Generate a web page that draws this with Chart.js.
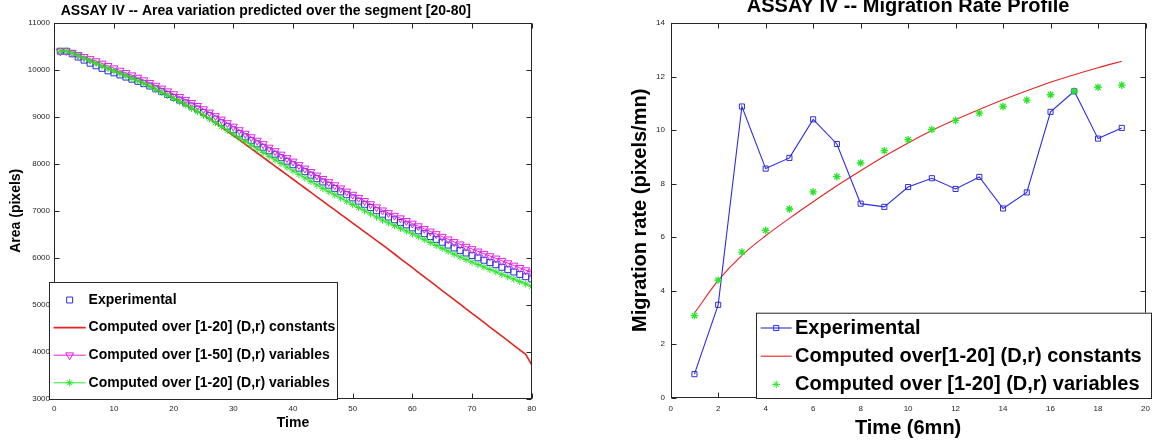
<!DOCTYPE html>
<html>
<head>
<meta charset="utf-8">
<script src="https://cdn.jsdelivr.net/npm/chart.js@4.4.1/dist/chart.umd.min.js"></script>
<style>
  html, body { margin: 0; padding: 0; background: #fff; overflow: hidden; }
  body { position: relative; width: 1173px; height: 445px; }
  canvas { position: absolute; }
  #areaChart { left: 0; top: 0; }
  #rateChart { left: 580px; top: -10px; }
</style>
</head>
<body>
<canvas id="areaChart" width="576" height="445"></canvas>
<canvas id="rateChart" width="593" height="455"></canvas>
<script>
// ---- left chart: area over time (t = 1..80) ----
const areaExperimental = [
  10390, 10390, 10335, 10265, 10200, 10135, 10080, 10025, 9972, 9930,
  9885, 9840, 9795, 9750, 9700, 9650, 9590, 9530, 9470, 9410,
  9350, 9290, 9225, 9160, 9090, 9020, 8950, 8870, 8795, 8720,
  8645, 8570, 8496, 8422, 8348, 8274, 8200, 8126, 8052, 7978,
  7904, 7830, 7756, 7682, 7610, 7542, 7475, 7402, 7341, 7272,
  7204, 7137, 7069, 7001, 6925, 6867, 6809, 6751, 6700, 6635,
  6574, 6513, 6452, 6391, 6330, 6270, 6210, 6156, 6102, 6048,
  5998, 5948, 5898, 5852, 5798, 5748, 5698, 5648, 5598, 5550
];
const areaConstants = [
  10390, 10395, 10350, 10295, 10240, 10185, 10130, 10075, 10022, 9969,
  9917, 9865, 9813, 9761, 9704, 9648, 9582, 9516, 9450, 9385,
  9317, 9250, 9177, 9105, 9029, 8953, 8865, 8775, 8688, 8598,
  8506, 8413, 8320, 8227, 8134, 8041, 7948, 7855, 7762, 7669,
  7576, 7483, 7390, 7297, 7204, 7111, 7018, 6925, 6832, 6739,
  6646, 6553, 6460, 6367, 6274, 6178, 6081, 5984, 5887, 5790,
  5693, 5596, 5499, 5402, 5305, 5208, 5111, 5014, 4917, 4820,
  4723, 4626, 4529, 4432, 4335, 4238, 4141, 4044, 3950, 3726
];
const areaVar50 = [
  10390, 10395, 10360, 10315, 10270, 10225, 10180, 10130, 10080, 10030,
  9980, 9930, 9880, 9830, 9775, 9720, 9660, 9600, 9540, 9480,
  9420, 9360, 9295, 9230, 9160, 9090, 9015, 8940, 8865, 8790,
  8715, 8640, 8566, 8492, 8418, 8344, 8270, 8196, 8122, 8048,
  7974, 7900, 7826, 7752, 7680, 7612, 7545, 7478, 7411, 7344,
  7277, 7210, 7143, 7076, 7010, 6954, 6898, 6842, 6786, 6730,
  6674, 6618, 6562, 6506, 6450, 6394, 6338, 6288, 6238, 6188,
  6138, 6088, 6038, 5988, 5938, 5888, 5838, 5788, 5738, 5690
];
const areaVar20 = [
  10390, 10395, 10350, 10295, 10240, 10185, 10130, 10075, 10022, 9969,
  9917, 9865, 9813, 9761, 9704, 9648, 9582, 9516, 9450, 9385,
  9317, 9250, 9177, 9105, 9029, 8953, 8871, 8790, 8710, 8630,
  8550, 8470, 8392, 8314, 8236, 8158, 8081, 8004, 7926, 7848,
  7773, 7698, 7623, 7548, 7475, 7406, 7338, 7270, 7202, 7134,
  7067, 7000, 6933, 6866, 6800, 6742, 6684, 6626, 6568, 6510,
  6448, 6386, 6324, 6262, 6200, 6138, 6076, 6020, 5964, 5908,
  5856, 5805, 5753, 5702, 5650, 5599, 5547, 5496, 5444, 5395
];
const areaTime = areaExperimental.map((_, i) => i + 1);
const areaTimeTicks = [0, 10, 20, 30, 40, 50, 60, 70, 80];
const areaTicks = [3000, 4000, 5000, 6000, 7000, 8000, 9000, 10000, 11000];

// ---- right chart: migration rate (t = 1..19) ----
const rateTime = [1, 2, 3, 4, 5, 6, 7, 8, 9, 10, 11, 12, 13, 14, 15, 16, 17, 18, 19];
const rateExperimental = [0.88, 3.47, 10.88, 8.56, 8.96, 10.40, 9.48, 7.25, 7.13, 7.87, 8.20, 7.80, 8.25, 7.07, 7.67, 10.68, 11.45, 9.68, 10.08];
const rateConstants = [3.16, 4.38, 5.32, 6.05, 6.70, 7.32, 7.92, 8.48, 9.02, 9.52, 9.98, 10.39, 10.77, 11.13, 11.47, 11.79, 12.07, 12.33, 12.57];
const rateVariables = [3.07, 4.39, 5.44, 6.25, 7.05, 7.69, 8.26, 8.77, 9.23, 9.64, 10.02, 10.36, 10.63, 10.88, 11.12, 11.32, 11.45, 11.60, 11.68];
const rateTimeTicks = [0, 2, 4, 6, 8, 10, 12, 14, 16, 18, 20];
const rateTicks = [0, 2, 4, 6, 8, 10, 12, 14];

const FONT = "'Liberation Sans', Arial, Helvetica, sans-serif";
const AXIS = '#262626';
const BLUE = 'rgb(45,45,225)';
const RED = 'rgb(228,35,35)';
const MAGENTA = 'rgb(225,35,225)';
const GREEN = 'rgb(45,228,45)';

const xy = (xs, ys) => ys.map((v, i) => ({ x: xs[i], y: v }));

// open markers, same shapes as chart.js uses for points
const drawMarker = (ctx, style, x, y, r, rot) => {
    ctx.beginPath();
    if (style === 'rect') {
        const s = r * Math.SQRT1_2;
        ctx.rect(x - s, y - s, 2 * s, 2 * s);
    } else if (style === 'triangle') {
        let a = (rot || 0) * Math.PI / 180;
        ctx.moveTo(x + Math.sin(a) * r, y - Math.cos(a) * r);
        for (let k = 0; k < 2; k++) {
            a += 2 * Math.PI / 3;
            ctx.lineTo(x + Math.sin(a) * r, y - Math.cos(a) * r);
        }
        ctx.closePath();
    } else if (style === 'star') {
        for (let k = 0; k < 4; k++) {
            const a = k * Math.PI / 4;
            ctx.moveTo(x - Math.cos(a) * r, y - Math.sin(a) * r);
            ctx.lineTo(x + Math.cos(a) * r, y + Math.sin(a) * r);
        }
    }
    ctx.stroke();
};

// matlab style box, inward ticks and legend box
const matlabBox = {
    id: 'matlabBox',
    afterDraw(chart, args, opts) {
        const { ctx, chartArea: a, scales: { x, y } } = chart;
        ctx.save();
        ctx.strokeStyle = AXIS;
        ctx.lineWidth = 1;
        const L = Math.round(a.left) + 0.5, R = Math.round(a.right) - 0.5;
        const T = Math.round(a.top) + 0.5, B = Math.round(a.bottom) - 0.5;
        ctx.beginPath();
        x.ticks.forEach(t => {
            const px = Math.round(x.getPixelForValue(t.value)) + 0.5;
            ctx.moveTo(px, B); ctx.lineTo(px, B - opts.tick);
            ctx.moveTo(px, T); ctx.lineTo(px, T + opts.tick);
        });
        y.ticks.forEach(t => {
            const py = Math.round(y.getPixelForValue(t.value)) + 0.5;
            ctx.moveTo(L, py); ctx.lineTo(L + opts.tick, py);
            ctx.moveTo(R, py); ctx.lineTo(R - opts.tick, py);
        });
        ctx.stroke();
        ctx.strokeRect(L, T, R - L, B - T);

        const lg = opts.legend;
        ctx.fillStyle = '#fff';
        ctx.fillRect(lg.left, lg.top, lg.right - lg.left, lg.bottom - lg.top);
        ctx.strokeStyle = AXIS;
        ctx.strokeRect(lg.left + 0.5, lg.top + 0.5, lg.right - lg.left - 1, lg.bottom - lg.top - 1);
        ctx.font = lg.font;
        ctx.textBaseline = 'middle';
        ctx.textAlign = 'left';
        chart.data.datasets.forEach((ds, k) => {
            const cy = lg.firstRow + k * lg.rowGap;
            ctx.strokeStyle = ds.borderColor;
            if (ds.showLine !== false) {
                ctx.lineWidth = ds.borderWidth;
                ctx.beginPath();
                ctx.moveTo(lg.lineFrom, cy);
                ctx.lineTo(lg.lineTo, cy);
                ctx.stroke();
            }
            if (ds.pointRadius > 0) {
                ctx.lineWidth = 1;
                drawMarker(ctx, ds.pointStyle, (lg.lineFrom + lg.lineTo) / 2, cy, ds.pointRadius, ds.pointRotation);
            }
            ctx.fillStyle = '#000';
            ctx.fillText(ds.label, lg.textX, cy);
        });
        ctx.restore();
    }
};

const axisScale = (min, max, tickList, size, isX, pad, title, titleSize, titlePad) => ({
    type: 'linear',
    min: min,
    max: max,
    afterBuildTicks: s => { s.ticks = tickList.map(v => ({ value: v })); },
    afterFit: s => { if (isX) s.height = size; else s.width = size; },
    grid: { display: false, drawTicks: false },
    border: { display: false },
    ticks: {
        padding: pad,
        color: AXIS,
        autoSkip: false,
        maxRotation: 0,
        font: { family: FONT, size: 8 },
        callback: v => String(v),
    },
    title: {
        display: true,
        text: title,
        color: '#000',
        font: { family: FONT, size: titleSize, weight: 'bold' },
        padding: titlePad,
    },
});

const areaChart = () => {
    new Chart(document.getElementById('areaChart'), {
        type: 'line',
        data: {
            datasets: [{
                label: 'Experimental',
                data: xy(areaTime, areaExperimental),
                showLine: false,
                borderColor: BLUE,
                borderWidth: 1,
                pointStyle: 'rect',
                pointRadius: 4.2,
                pointBorderWidth: 1,
                pointBorderColor: BLUE,
                pointBackgroundColor: 'rgba(0,0,0,0)',
                order: 3,
            }, {
                label: 'Computed over [1-20] (D,r) constants',
                data: xy(areaTime, areaConstants),
                borderColor: RED,
                borderWidth: 1.6,
                pointRadius: 0,
                order: 2,
            }, {
                label: 'Computed over [1-50] (D,r) variables',
                data: xy(areaTime, areaVar50),
                borderColor: MAGENTA,
                borderWidth: 1,
                pointStyle: 'triangle',
                pointRotation: 180,
                pointRadius: 4.6,
                pointBorderWidth: 1,
                pointBorderColor: MAGENTA,
                pointBackgroundColor: 'rgba(0,0,0,0)',
                order: 1,
            }, {
                label: 'Computed over [1-20] (D,r) variables',
                data: xy(areaTime, areaVar20),
                borderColor: GREEN,
                borderWidth: 1,
                pointStyle: 'star',
                pointRadius: 3.6,
                pointBorderWidth: 1,
                pointBorderColor: GREEN,
                order: 0,
            }],
        },
        options: {
            responsive: false,
            animation: false,
            devicePixelRatio: 1,
            layout: { padding: { right: 44.3 } },
            plugins: {
                legend: { display: false },
                tooltip: { enabled: false },
                title: {
                    display: true,
                    text: 'ASSAY IV -- Area variation predicted over the segment [20-80]',
                    color: '#000',
                    font: { family: FONT, size: 14, weight: 'bold' },
                    padding: { top: 3.1, bottom: 2.6 },
                },
                matlabBox: {
                    tick: 5,
                    legend: {
                        left: 49, right: 338, top: 282, bottom: 400,
                        firstRow: 300, rowGap: 27.6,
                        lineFrom: 53.6, lineTo: 85.7, textX: 88.6,
                        font: 'bold 14px ' + FONT,
                    },
                },
            },
            scales: {
                x: axisScale(0, 80, areaTimeTicks, 46, true, 4.5, 'Time', 14, { top: 0, bottom: 13.6 }),
                y: axisScale(3000, 11000, areaTicks, 54.3, false, 4.3, 'Area (pixels)', 14, { top: 7.6, bottom: 0 }),
            },
        },
        plugins: [matlabBox],
    });
};

const rateChart = () => {
    new Chart(document.getElementById('rateChart'), {
        type: 'line',
        data: {
            datasets: [{
                label: 'Experimental',
                data: xy(rateTime, rateExperimental),
                borderColor: BLUE,
                borderWidth: 1.1,
                pointStyle: 'rect',
                pointRadius: 3.6,
                pointBorderWidth: 1,
                pointBorderColor: BLUE,
                pointBackgroundColor: 'rgba(0,0,0,0)',
                order: 1,
            }, {
                label: 'Computed over[1-20] (D,r) constants',
                data: xy(rateTime, rateConstants),
                borderColor: RED,
                borderWidth: 1.1,
                pointRadius: 0,
                cubicInterpolationMode: 'monotone',
                order: 2,
            }, {
                label: 'Computed over [1-20] (D,r) variables',
                data: xy(rateTime, rateVariables),
                showLine: false,
                borderColor: GREEN,
                borderWidth: 1,
                pointStyle: 'star',
                pointRadius: 3.8,
                pointBorderWidth: 1.3,
                pointBorderColor: GREEN,
                order: 0,
            }],
        },
        options: {
            responsive: false,
            animation: false,
            devicePixelRatio: 1,
            layout: { padding: { right: 27.5 } },
            plugins: {
                legend: { display: false },
                tooltip: { enabled: false },
                title: {
                    display: true,
                    fullSize: false,
                    text: 'ASSAY IV -- Migration Rate Profile',
                    color: '#000',
                    font: { family: FONT, size: 20, weight: 'bold' },
                    padding: { top: 4, bottom: 5 },
                },
                matlabBox: {
                    tick: 5,
                    legend: {
                        left: 176, right: 572, top: 322.7, bottom: 409,
                        firstRow: 338, rowGap: 28.2,
                        lineFrom: 180.7, lineTo: 211.7, textX: 215,
                        font: 'bold 20px ' + FONT,
                    },
                },
            },
            scales: {
                x: axisScale(0, 20, rateTimeTicks, 47.3, true, 6.5, 'Time (6mn)', 20, { top: 0, bottom: 5 }),
                y: axisScale(0, 14, rateTicks, 90.7, false, 5.7, 'Migration rate (pixels/mn)', 20, { top: 48, bottom: 0 }),
            },
        },
        plugins: [matlabBox],
    });
};

window.onload = () => {
    areaChart();
    rateChart();
};
</script>
</body>
</html>
